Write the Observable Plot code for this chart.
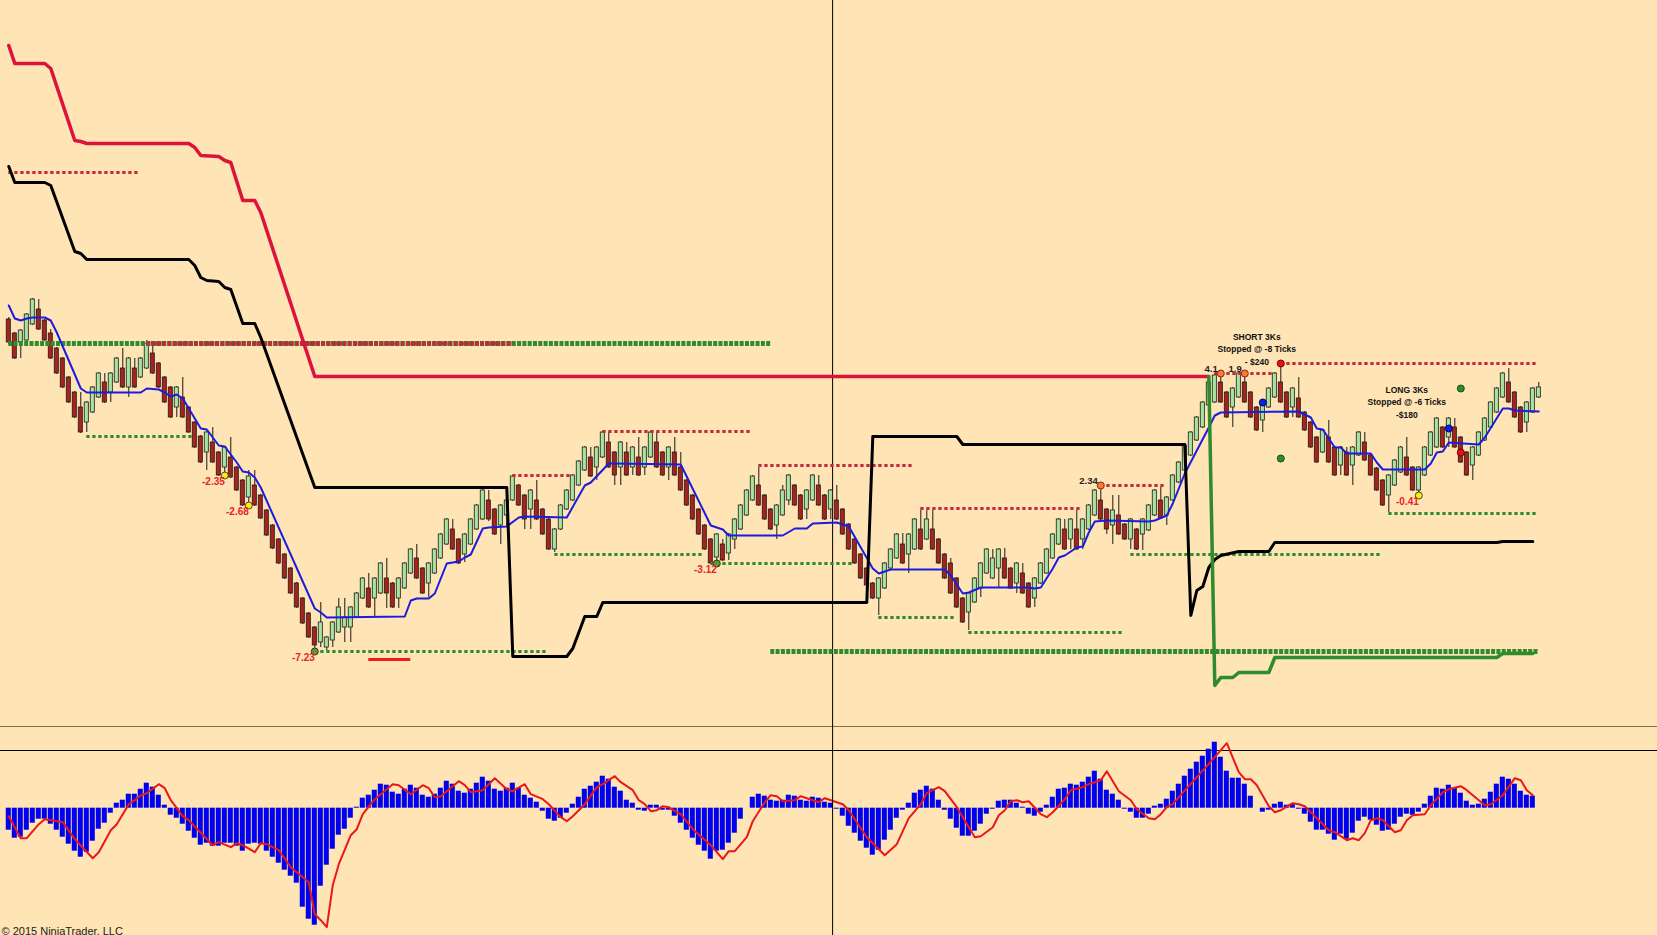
<!DOCTYPE html>
<html>
<head>
<meta charset="utf-8">
<script src="https://cdn.jsdelivr.net/npm/d3@7"></script>
<script src="https://cdn.jsdelivr.net/npm/@observablehq/plot@0.6"></script>
<style>
  html, body { margin: 0; padding: 0; background: #ffe4b5; overflow: hidden; }
  #chart svg { display: block; }
</style>
</head>
<body>
<div id="chart"></div>
<script>
// Price bars, one per bar index (price in chart units)
const opens = [
  408,394,385,387,403,418,407,394,379,369, 350,335,320,305,315,330,345,335,345,359,
  340,359,350,359,374,364,350,340,320,330, 320,305,291,275,285,275,260,270,260,247,
  230,242,232,217,202,188,173,159,144,129, 114,100,85,80,87,95,100,100,110,129,
  139,129,134,149,144,129,139,154,169,159, 144,154,169,183,198,188,173,183,198,208,
  227,218,202,212,227,242,232,218,227,218, 208,178,198,218,227,242,257,270,260,270,
  285,275,260,275,260,270,260,270,285,275, 260,275,260,247,232,218,202,188,170,183,
  174,188,198,212,227,242,232,218,202,212, 227,242,232,218,227,242,232,218,227,218,
  203,188,173,159,144,129,139,159,169,183, 173,178,198,188,198,188,173,164,149,129,
  115,125,139,154,149,159,169,159,144,154, 144,129,144,154,169,183,198,188,198,188,
  198,212,227,218,202,212,203,188,198,193, 197,212,227,212,227,245,257,272,287,300,
  322,325,345,335,320,330,345,335,320,307, 320,330,345,335,320,329,315,305,290,275,
  290,280,262,275,262,272,285,272,259,247, 232,242,255,270,260,237,252,272,280,300,
  290,300,290,275,262,272,287,300,315,330, 345,335,320,305,315,330
];
const highs = [
  410,395,398,414,429,428,408,398,380,370, 351,336,335,326,341,355,354,355,370,379,
  370,369,370,387,384,365,351,341,341,350, 321,306,292,296,300,276,281,290,261,248,
  257,257,233,218,203,189,174,160,145,130, 115,101,125,91,106,129,129,121,135,150,
  154,150,165,169,145,150,165,179,183,160, 165,179,194,209,208,189,194,209,223,238,
  237,219,223,228,252,243,233,238,247,219, 209,199,223,238,253,267,281,280,281,296,
  295,276,286,285,281,290,281,296,295,276, 281,290,275,248,233,219,203,189,194,188,
  194,209,223,238,252,260,233,219,223,242, 253,243,233,238,253,252,233,238,242,219,
  204,189,174,160,145,150,165,179,194,194, 194,209,217,217,217,189,174,169,150,130,
  135,150,165,179,178,179,179,160,165,164, 145,150,165,179,194,209,208,209,217,209,
  223,238,242,219,232,232,204,209,199,209, 223,238,240,231,253,266,283,296,311,326,
  346,354,355,336,340,355,355,336,321,326, 340,355,364,336,340,350,316,306,291,298,
  307,281,281,280,281,296,295,273,260,248, 253,268,281,290,261,261,281,296,310,301,
  310,309,291,276,281,296,310,326,340,355, 359,336,321,326,340,345
];
const lows = [
  383,368,369,386,402,397,386,368,353,339, 324,309,294,295,314,329,324,325,344,339,
  330,339,349,358,353,339,324,309,310,309, 294,279,264,257,264,251,252,249,236,221,
  222,221,208,191,178,163,148,133,119,103, 89,76,80,77,80,94,85,85,109,128,
  119,110,133,119,119,119,138,153,148,133, 130,153,168,182,177,163,165,182,197,207,
  206,192,183,200,226,221,198,198,207,192, 177,175,197,217,226,241,256,250,247,269,
  259,242,242,251,252,251,252,269,259,251, 247,251,236,221,207,192,177,163,164,166,
  167,178,197,211,226,221,207,197,188,211, 222,221,207,208,226,221,207,208,207,192,
  177,163,148,141,128,112,138,158,168,163, 154,177,177,187,177,163,148,133,119,104,
  97,124,130,153,148,139,148,138,134,133, 119,120,143,153,168,182,177,178,177,178,
  197,211,207,193,183,192,187,178,177,177, 196,211,208,202,226,244,256,271,286,299,
  321,324,324,309,300,329,324,309,296,295, 319,329,324,309,310,309,296,279,264,274,
  264,251,252,251,242,271,266,251,236,221, 215,241,254,251,236,232,251,271,279,279,
  280,279,264,251,247,271,286,299,314,329, 324,309,294,295,314,329
];
const closes = [
  385,369,397,413,428,398,387,369,354,340, 325,310,295,325,340,354,325,354,369,340,
  369,340,369,384,354,340,325,310,340,310, 295,280,265,295,265,252,280,250,237,222,
  251,222,209,192,179,164,149,134,120,104, 90,82,105,90,105,120,110,120,134,149,
  120,149,164,134,120,149,164,178,149,134, 164,178,193,208,178,164,193,208,222,237,
  208,193,222,227,251,222,208,237,208,193, 178,198,222,237,252,266,280,251,280,295,
  260,252,285,252,280,252,280,295,260,252, 280,252,237,222,208,193,178,164,193,167,
  193,208,222,237,251,222,208,198,222,237, 252,222,208,237,252,222,208,237,208,193,
  178,164,149,142,129,149,164,178,193,164, 193,208,178,208,178,164,149,134,120,105,
  134,149,164,178,169,178,149,139,164,134, 120,149,164,178,193,208,178,208,178,208,
  222,237,208,198,217,193,188,208,178,208, 222,237,209,230,252,265,282,295,310,325,
  345,352,325,310,339,354,325,310,297,325, 339,354,325,310,339,310,297,280,265,297,
  265,252,280,252,280,295,267,252,237,222, 252,267,280,252,237,260,280,295,309,280,
  309,280,265,252,280,295,309,325,339,354, 325,310,295,325,339,340
];

// Moving average and bands: [bar, price] vertices
const maLine = [
  [0,422],[1,409],[2,407],[3,409],[4,410],[6,410],[7,407],[8,395],[12,339],[13,335],[22,335],[23,339],
  [25,338],[26,335],[27,331],[28,333],[29,329],[30,319],[32,299],[33,298],[35,282],[36,281],[38,265],
  [39,256],[40,255],[41,250],[42,240],[51,119],[52,115],[53,110],[66,111],[67,127],[68,129],[70,129],
  [71,134],[73,164],[75,166],[76,170],[77,173],[79,199],[80,200],[83,201],[85,210],[86,211],[93,210],
  [96,242],[97,245],[100,264],[101,264],[112,263],[117,202],[119,198],[120,192],[129,192],[131,199],
  [133,199],[134,204],[138,205],[140,201],[142,180],[144,159],[145,154],[147,158],[156,158],[157,152],
  [159,134],[160,135],[162,140],[170,140],[171,139],[172,140],[174,159],[175,170],[176,172],[178,180],
  [179,181],[180,195],[181,206],[183,207],[190,206],[191,207],[193,212],[194,224],[196,254],[200,300],
  [201,312],[202,315],[215,316],[217,310],[218,299],[219,298],[221,280],[222,280],[223,274],[227,274],
  [228,265],[229,258],[236,258],[237,264],[238,275],[239,276],[240,285],[245,283],[246,290],[249,319],
  [250,319],[251,317],[255,316]
];
const upperBand = [
  [0,682],[1,664],[6,664],[7,659],[11,587],[12,586],[13,584],[30,584],[31,580],[32,572],[35,571],
  [36,567],[37,565],[39,527],[41,527],[42,515],[51,351],[200,351]
];
const midBand = [
  [0,561],[1,545],[6,545],[7,542],[11,476],[12,474],[13,468],[30,468],[31,462],[32,450],[33,447],
  [35,446],[36,440],[37,438],[39,404],[41,404],[42,390],[51,240],[83,240],[84,71],[93,71],[94,79],
  [96,111],[98,111],[99,125],[143,125],[144,291],[158,291],[159,283],[196,283],[197,112],[198,137],
  [199,141],[200,160],[201,168],[202,172],[205,176],[210,176],[211,185],[248,185],[249,186],[254,186]
];
const lowerBand = [
  [200,351],[201,42],[202,50],[204,50],[205,55],[210,55],[211,70],[248,70],[249,74],[254,74]
];

// Horizontal levels: [startBar, endBar, price]
const resistance = [
  [0,22,555],[84,94,252],[99,124,296],[125,151,262],[152,179,219],[182,193,242],[201,211,354],[212,255,364]
];
const support = [
  [13,31,291],[51,90,76],[91,116,173],[117,141,164],[145,158,110],[160,186,95],[187,229,173],[230,255,214]
];
const majorSupport = [[0,127,384],[127,255,76]];
const majorOverlap = [[23,84,384]];
const targetLine = [[60,67,68]];

// Markers: [bar, price]
const yellowDots = [[36,252],[40,222],[235,232]];
const exitDots = [[51,76],[118,164]];
const orangeDots = [[182,242],[202,354],[206,354]];
const redDots = [[212,364],[242,275]];
const blueDots = [[209,325],[240,299]];
const greenDots = [[212,269],[242,339]];

// Labels: [text, bar, price]
const lossLabels = [["-2.35",36,252],["-2.68",40,222],["-7.23",51,76],["-3.12",118,164],["-0.41",235,232]];
const gainLabels = [["2.34",182,242],["4.1",202,354],["1.9",206,354]];
const tradeNotes = [
  ["SHORT 3Ks\nStopped @ -8 Ticks\n- $240", 208, 379],
  ["LONG 3Ks\nStopped @ -6 Ticks\n-$180", 233, 326]
];

// Oscillator histogram (bars 0..254) and signal line vertices
const histogram = [
  -22,-30,-29,-22,-15,-11,-11,-16,-22,-29, -36,-43,-49,-44,-33,-21,-15,-5,5,8,
  14,14,19,25,21,13,3,-7,-10,-16, -23,-30,-37,-35,-38,-38,-35,-35,-38,-43,
  -36,-35,-36,-43,-49,-55,-62,-68,-75,-99, -111,-117,-78,-57,-41,-27,-21,-10,1,10,
  13,18,24,23,16,14,19,23,20,13, 11,14,20,27,24,17,15,19,25,31,
  27,19,17,20,25,20,13,10,6,-3, -11,-13,-10,-5,4,11,19,22,26,32,
  29,21,17,8,5,-2,-3,3,3,-2, -2,-8,-15,-22,-30,-37,-43,-51,-43,-42,
  -35,-25,-11,0,11,14,12,8,7,8, 13,12,8,7,11,10,6,5,-1,-8,
  -18,-25,-33,-40,-47,-42,-32,-22,-10,-2, 5,15,18,22,19,8,-2,-11,-20,-28,
  -28,-23,-16,-6,-1,7,8,8,5,1, -6,-8,-4,3,11,19,20,24,23,26,
  31,37,29,18,14,8,-1,-4,-10,-10, -6,2,4,9,17,24,32,39,46,52,
  59,66,51,37,30,30,24,12,0,-4, -2,4,6,3,4,-1,-6,-14,-22,-22,
  -26,-32,-26,-31,-25,-13,-9,-12,-17,-23, -22,-16,-9,-6,-7,-4,4,12,20,19,
  23,20,15,7,3,4,9,16,24,31, 29,24,17,13,12
];
const signal = [
  [0,-8],[2,-30],[3,-30],[5,-16],[6,-11],[9,-14],[11,-31],[14,-50],[15,-44],[17,-22],[18,-16],[20,4],
  [21,8],[22,13],[23,15],[25,24],[26,20],[27,8],[29,-8],[30,-12],[34,-37],[35,-34],[37,-39],[38,-35],
  [39,-37],[41,-44],[42,-35],[43,-36],[45,-42],[47,-59],[50,-74],[51,-106],[52,-112],[53,-119],[54,-77],
  [55,-56],[57,-27],[58,-21],[59,-6],[61,9],[62,14],[64,24],[65,23],[67,14],[69,23],[70,20],[71,11],
  [72,12],[75,27],[76,23],[77,16],[79,18],[81,30],[83,19],[84,17],[86,24],[87,14],[89,9],[90,4],
  [92,-9],[93,-13],[94,-8],[96,4],[98,21],[99,24],[101,32],[102,26],[104,18],[105,8],[106,4],[107,-3],
  [108,-2],[109,2],[110,1],[111,-3],[112,-6],[114,-21],[117,-37],[119,-51],[120,-43],[121,-43],
  [123,-29],[124,-13],[126,6],[127,13],[128,12],[129,7],[131,8],[132,12],[133,10],[135,6],[136,10],
  [137,8],[138,6],[139,4],[140,-2],[143,-29],[146,-47],[148,-36],[150,-10],[152,4],[153,15],[155,21],
  [156,17],[158,1],[161,-29],[162,-28],[164,-19],[165,-7],[166,-2],[167,7],[168,8],[169,6],[170,7],
  [172,-6],[173,-9],[174,-4],[176,9],[177,18],[179,21],[180,24],[182,28],[183,37],[185,17],[187,8],
  [188,-1],[190,-10],[191,-11],[192,-6],[193,1],[194,4],[195,11],[201,51],[203,65],[205,36],[206,29],
  [207,29],[208,23],[210,2],[211,-4],[212,-2],[214,5],[215,4],[216,2],[218,-10],[220,-22],[221,-24],
  [223,-32],[224,-30],[225,-32],[226,-25],[227,-12],[228,-10],[229,-12],[231,-24],[232,-22],[233,-12],
  [234,-7],[236,-6],[237,3],[239,16],[240,19],[242,22],[243,18],[245,8],[246,3],[247,4],[249,13],
  [251,30],[252,28],[253,18],[254,13]
];

const cursorBar = 137.3;
const copyright = "© 2015 NinjaTrader, LLC";

// ---- build ----
const bg = "#ffe4b5";
const font = "'Liberation Sans', Arial, sans-serif";
const xScale = {domain: [-1.38, 274.78], axis: null};
const priceDomain = [0, 727];
const oscDomain = [-127.3, 80.7];
const oscPanelTop = 57.7;

const candles = opens.map((o, i) => ({bar: i, open: o, high: highs[i], low: lows[i], close: closes[i]}));
const upBars = candles.filter(d => d.close >= d.open);
const downBars = candles.filter(d => d.close < d.open);
const levels = rows => rows.map(([start, end, price]) => ({start, end, price}));
const pts = rows => rows.map(([bar, price]) => ({bar, price}));
const labels = rows => rows.map(([text, bar, price]) => ({text, bar, price}));

function dots(rows, fill, stroke) {
  return Plot.dot(pts(rows), {x: "bar", y: "price", r: 3.5, fill, stroke, strokeWidth: 1});
}

const pricePanel = Plot.plot({
  width: 1657,
  height: 727,
  margin: 0,
  x: xScale,
  y: {domain: priceDomain, axis: null},
  style: {background: bg, fontFamily: font},
  marks: [
    Plot.ruleX([cursorBar], {stroke: "#000", strokeWidth: 1}),
    // candles
    Plot.ruleX(candles, {x: "bar", y1: "low", y2: "high", stroke: "#1a1a1a", strokeWidth: 1}),
    Plot.rect(upBars, {x1: d => d.bar - 0.34, x2: d => d.bar + 0.34, y1: "open", y2: "close",
      fill: "#a8e4a0", stroke: "#1a1a1a", strokeWidth: 0.8}),
    Plot.rect(downBars, {x1: d => d.bar - 0.34, x2: d => d.bar + 0.34, y1: "open", y2: "close",
      fill: "#a8231c", stroke: "#1a1a1a", strokeWidth: 0.8}),
    // levels
    Plot.ruleY(levels(majorSupport), {x1: "start", x2: "end", y: "price",
      stroke: "#2e8b2e", strokeWidth: 5, strokeDasharray: "4 1.3"}),
    Plot.ruleY(levels(majorOverlap), {x1: "start", x2: "end", y: "price",
      stroke: "#7d4b37", strokeWidth: 5, strokeDasharray: "4 1.3"}),
    Plot.ruleY(levels(majorOverlap), {x1: "start", x2: "end", y: "price",
      stroke: "#c62a3d", strokeWidth: 4, strokeDasharray: "2.2 2.2"}),
    Plot.ruleY(levels(support), {x1: "start", x2: "end", y: "price",
      stroke: "#2e8b2e", strokeWidth: 3, strokeDasharray: "3.3 2.7"}),
    Plot.ruleY(levels(resistance), {x1: "start", x2: "end", y: "price",
      stroke: "#c62a3d", strokeWidth: 3, strokeDasharray: "3.3 2.7"}),
    Plot.ruleY(levels(targetLine), {x1: "start", x2: "end", y: "price",
      stroke: "#ee1c1c", strokeWidth: 3}),
    // moving average and bands
    Plot.line(pts(maLine), {x: "bar", y: "price", stroke: "#1c1ce0", strokeWidth: 2, strokeLinejoin: "round"}),
    Plot.line(pts(midBand), {x: "bar", y: "price", stroke: "#000", strokeWidth: 3, strokeLinejoin: "round"}),
    Plot.line(pts(upperBand), {x: "bar", y: "price", stroke: "#dc143c", strokeWidth: 3.5, strokeLinejoin: "round"}),
    Plot.line(pts(lowerBand), {x: "bar", y: "price", stroke: "#2e8b2e", strokeWidth: 3.5, strokeLinejoin: "round"}),
    // markers
    dots(yellowDots, "#ffee00", "#444"),
    dots(exitDots, "#5a9a2a", "#333"),
    dots(orangeDots, "#ee8030", "#9a1a1a"),
    dots(redDots, "#ee1111", "#660000"),
    dots(blueDots, "#1020e0", "#000060"),
    dots(greenDots, "#2e8b2e", "#1a4a1a"),
    Plot.text(labels(lossLabels), {x: "bar", y: "price", text: "text", textAnchor: "end", dy: 6,
      fill: "#e8231f", fontWeight: "bold", fontSize: 10}),
    Plot.text(labels(gainLabels), {x: "bar", y: "price", text: "text", textAnchor: "end", dx: -3, dy: -5,
      fill: "#222", fontWeight: "bold", fontSize: 9.5}),
    Plot.text(labels(tradeNotes), {x: "bar", y: "price", text: "text", fill: "#111", fontSize: 8.5,
      fontWeight: "bold", lineHeight: 1.45}),
    Plot.ruleY([priceDomain[0]], {stroke: "#000", strokeWidth: 2})
  ]
});

const hist = histogram.map((v, i) => ({bar: i, value: v}));

const oscPanel = Plot.plot({
  width: 1657,
  height: 208,
  margin: 0,
  x: xScale,
  y: {domain: oscDomain, axis: null},
  style: {background: bg, fontFamily: font},
  marks: [
    Plot.ruleY([oscPanelTop], {stroke: "#000", strokeWidth: 1}),
    Plot.rect(hist, {x1: d => d.bar - 0.42, x2: d => d.bar + 0.42, y1: 0, y2: "value", fill: "#0000ee"}),
    Plot.line(pts(signal), {x: "bar", y: "price", stroke: "#e81818", strokeWidth: 2, strokeLinejoin: "round"}),
    Plot.ruleX([cursorBar], {stroke: "#000", strokeWidth: 1}),
    Plot.text([copyright], {frameAnchor: "bottom-left", textAnchor: "start", lineAnchor: "bottom",
      dx: 1, dy: -1, fontSize: 11, fill: "#222"})
  ]
});

document.getElementById("chart").append(pricePanel, oscPanel);
</script>
</body>
</html>
